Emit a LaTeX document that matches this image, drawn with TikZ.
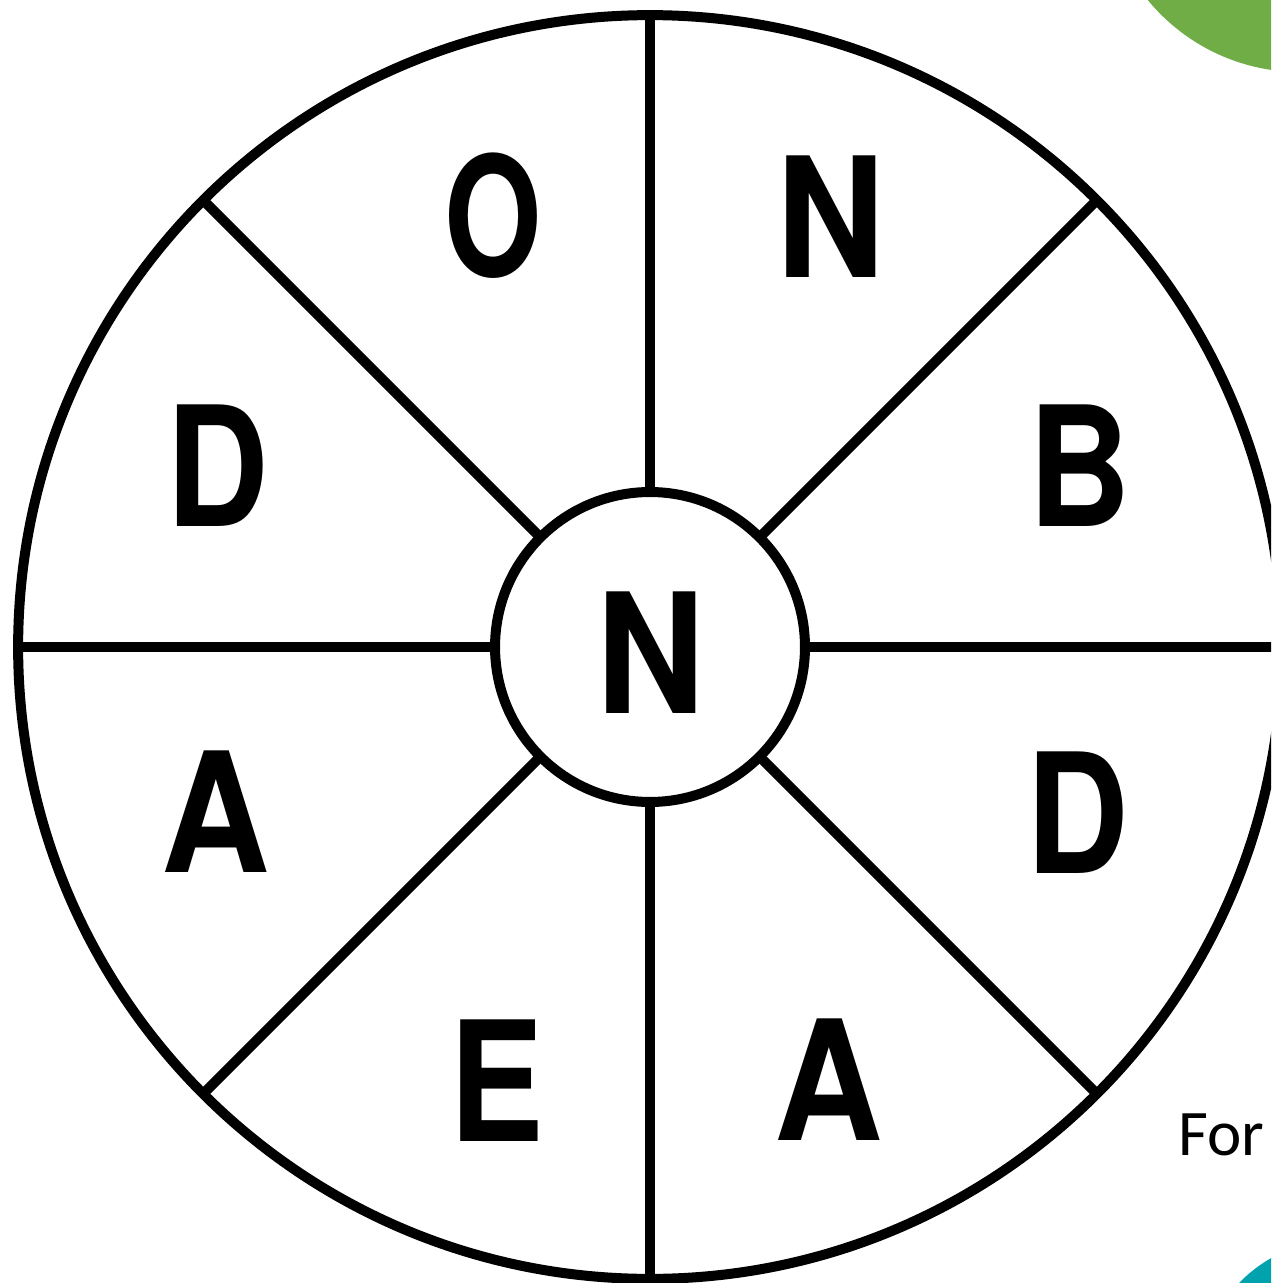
\documentclass[tikz,border=0pt]{standalone}
\usepackage{fontspec}
\setmainfont{TeX Gyre Heros}
\newfontfamily\forfont{Carlito}
\definecolor{accgreen}{RGB}{112,173,71}
\definecolor{accteal}{RGB}{0,163,173}
\begin{document}
\begin{tikzpicture}[x=0.02cm,y=-0.02cm,
  ring/.style={draw=black,line width=0.2cm,circle,inner sep=0pt,outer sep=0pt},
  spoke/.style={draw=black,line width=0.2cm},
  letter/.style={inner sep=0pt,font=\fontsize{95}{95}\selectfont\bfseries}]
\useasboundingbox (0,0) rectangle (1271,1283);
\clip (0,0) rectangle (1271,1283);
\fill[accgreen] (1300,-125) circle[radius=197*0.02cm];
\fill[accteal] (1340,1380) circle[radius=140*0.02cm];
\node[ring,minimum size=25.28cm] (outer) at (650,647) {};
\node[ring,minimum size=6.2cm] (inner) at (650,647) {};
\foreach \a in {0,45,...,315}{
  \draw[spoke] (inner.\a) -- (outer.\a);
}
\node[letter] (lo) at (493,216) {\scalebox{0.75}[1]{O}};
\node[letter] (ln1) at (831,217) {\scalebox{0.9}[1]{N}};
\node[letter] (ld1) at (218,466) {\scalebox{0.85}[1]{D}};
\node[letter] (lb) at (1080,466) {\scalebox{0.85}[1]{B}};
\node[letter] (lc) at (651,653) {\scalebox{0.9}[1]{N}};
\node[letter] (la1) at (216,812) {\scalebox{0.9}[1]{A}};
\node[letter] (ld2) at (1078,813) {\scalebox{0.85}[1]{D}};
\node[letter] (le) at (497,1081) {\scalebox{0.85}[1]{E}};
\node[letter] (la2) at (829,1080) {\scalebox{0.9}[1]{A}};
\node[anchor=base west,inner sep=0pt,font=\forfont\fontsize{37}{37}\selectfont] (for) at (1178,1155) {For};
\end{tikzpicture}
\end{document}
